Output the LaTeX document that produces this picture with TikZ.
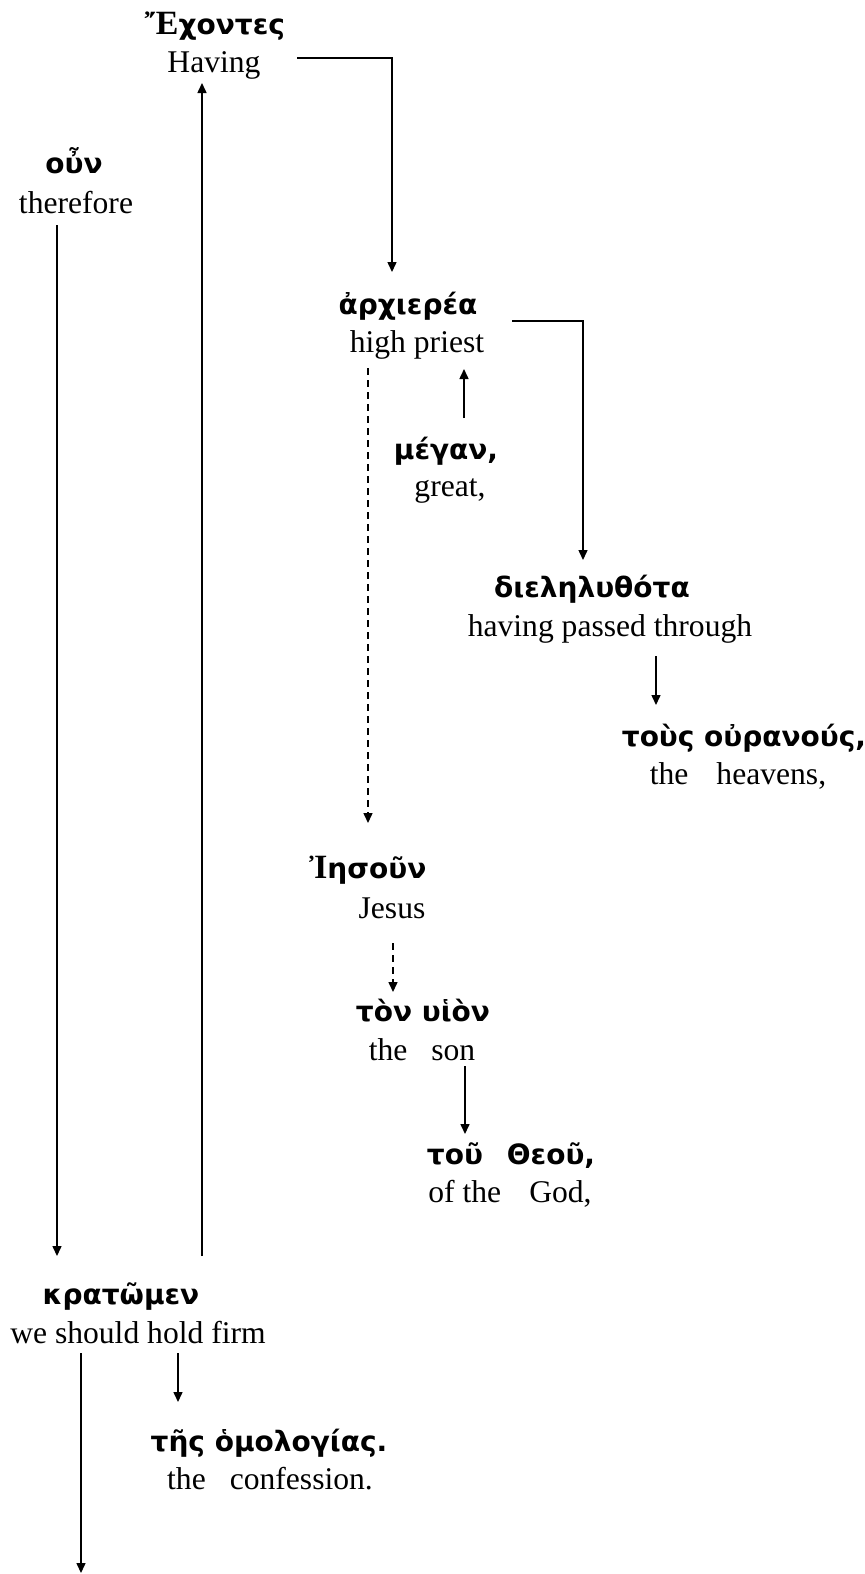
\documentclass[tikz,border=0pt]{standalone}
\usepackage{fontspec}
\setmainfont{Liberation Serif}
\newfontfamily\gk{DejaVu Sans}
\newfontfamily\gkcap{Liberation Serif}
\usetikzlibrary{arrows.meta}
\begin{document}
\begin{tikzpicture}[x=0.5pt,y=-0.5pt,
 en/.style={anchor=base,inner sep=0pt,font=\fontsize{15.8}{18}\selectfont},
 gr/.style={anchor=base,inner sep=0pt,font=\gk\bfseries\fontsize{14}{16}\selectfont},
 arr/.style={-{Triangle[length=5pt,width=4.5pt]},line width=0.75pt},
 darr/.style={arr,dash pattern=on 3.5pt off 2.5pt}]
\useasboundingbox (0,0) rectangle (865,1574);
\newcommand\capgk[1]{{\gkcap\bfseries\fontsize{17}{18}\selectfont #1}}
\node[gr] (exo) at (215,34) {\capgk{Ἔ}χοντες};
\node[en] (hav) at (214,72) {Having};
\node[gr] (oun) at (74,173) {οὖν};
\node[en] (ther) at (76,213) {therefore};
\node[gr] (arch) at (408,314) {ἀρχιερέα};
\node[en] (hp) at (417,352) {high priest};
\node[gr] (meg) at (446,459) {μέγαν,};
\node[en] (grt) at (450,496) {great,};
\node[gr] (diel) at (592,597) {διεληλυθότα};
\node[en] (hpt) at (610,636) {having passed through};
\node[gr] (our) at (744,746) {τοὺς οὐρανούς,};
\node[en] (hea) at (738,784) {the\hspace{14pt}heavens,};
\node[gr] (ies) at (368,878) {\capgk{Ἰ}ησοῦν};
\node[en] (jes) at (392,918) {Jesus};
\node[gr] (uion) at (423,1021) {τὸν υἱὸν};
\node[en] (son) at (422,1060) {the\hspace{12pt}son};
\node[gr] (theou) at (511,1164) {τοῦ\hspace{12pt}Θεοῦ,};
\node[en] (god) at (510,1202) {of the\hspace{14pt}God,};
\node[gr] (krat) at (121,1304) {κρατῶμεν};
\node[en] (hold) at (138,1343) {we should hold firm};
\node[gr] (omol) at (269,1451) {τῆς ὁμολογίας.};
\node[en] (conf) at (270,1489) {the\hspace{12pt}confession.};
\coordinate (bottom) at (81,1573);
% connectors
\draw[arr] ([shift={(83,-14)}]hav.base) -| ([shift={(-16,-42)}]arch.base);
\draw[arr] ([shift={(95,-31)}]hp.base) -| ([shift={(-9,-37)}]diel.base);
\draw[darr] ([shift={(-49,16)}]hp.base) -- ([shift={(0,-55)}]ies.base);
\draw[arr] ([shift={(18,-41)}]meg.base) -- ([shift={(47,17)}]hp.base);
\draw[arr] ([shift={(46,20)}]hpt.base) -- ([shift={(-88,-41)}]our.base);
\draw[darr] ([shift={(1,25)}]jes.base) -- ([shift={(-30,-29)}]uion.base);
\draw[arr] ([shift={(43,6)}]son.base) -- ([shift={(-46,-30)}]theou.base);
\draw[arr] ([shift={(-19,12)}]ther.base) -- ([shift={(-64,-48)}]krat.base);
\draw[arr] ([shift={(81,-48)}]krat.base) -- ([shift={(-12,11)}]hav.base);
\draw[arr] ([shift={(40,10)}]hold.base) -- ([shift={(-91,-49)}]omol.base);
\draw[arr] ([shift={(-57,10)}]hold.base) -- (bottom);
\end{tikzpicture}
\end{document}
